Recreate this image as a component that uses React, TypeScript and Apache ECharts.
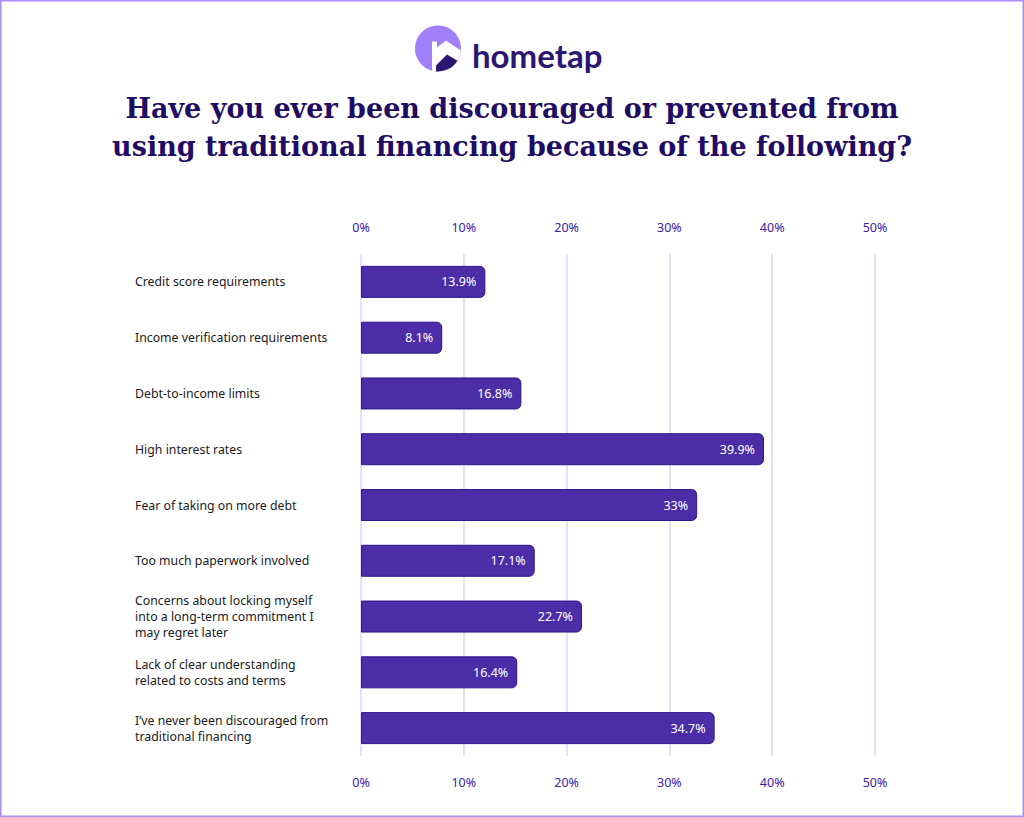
import { useEffect, useRef } from "react";
import * as echarts from "echarts";

const categories = [
  "Credit score requirements",
  "Income verification requirements",
  "Debt-to-income limits",
  "High interest rates",
  "Fear of taking on more debt",
  "Too much paperwork involved",
  "Concerns about locking myself\ninto a long-term commitment I\nmay regret later",
  "Lack of clear understanding\nrelated to costs and terms",
  "I’ve never been discouraged from\ntraditional financing",
];

// bar lengths as drawn in the picture (the printed labels differ a little)
const barLengths = [12.1, 7.9, 15.6, 39.2, 32.7, 16.9, 21.5, 15.2, 34.4];
const valueLabels = [
  "13.9%",
  "8.1%",
  "16.8%",
  "39.9%",
  "33%",
  "17.1%",
  "22.7%",
  "16.4%",
  "34.7%",
];

const axisMin = 0;
const axisMax = 50;
const axisStep = 10;

const titleLines = [
  "Have you ever been discouraged or prevented from",
  "using traditional financing because of the following?",
];

const purple = "#4b2ea7";
const ink = "#1f0c64";
const tickColor = "#3b21ad";
const gridColor = "#ddd7fc";
const sans = "'Noto Sans', Lato, sans-serif";

echarts.graphic.registerShape(
  "logoHouse",
  echarts.graphic.extendPath(
    "M -6 22.2 L -6 -7 L -1 -7 L -1 -1 L 8 -8 L 22.9 2 A 23 23 0 0 1 -6 22.2 Z",
    {}
  )
);
echarts.graphic.registerShape(
  "logoRoof",
  echarts.graphic.extendPath(
    "M -2 22.9 L -2 17 L 9 6 L 19.5 12.2 A 23 23 0 0 1 -2 22.9 Z",
    {}
  )
);

const App = () => {
  const chartRef = useRef<HTMLDivElement | null>(null);

  useEffect(() => {
    if (!chartRef.current) {
      return;
    }
    const instance = echarts.init(chartRef.current, undefined, {
      renderer: "svg",
    });

    const valueAxis = {
      type: "value" as const,
      min: axisMin,
      max: axisMax,
      interval: axisStep,
      axisLine: { show: false },
      axisTick: { show: false },
      axisLabel: {
        formatter: "{value}%",
        color: tickColor,
        fontSize: 12.5,
        fontFamily: sans,
        margin: 20,
      },
    };

    const titleTexts = titleLines.map((line, i) => ({
      type: "text" as const,
      x: 512,
      y: 108 + i * 38,
      style: {
        text: line,
        fill: ink,
        font: "bold 27px 'DejaVu Serif', serif",
        align: "center",
        verticalAlign: "middle",
      },
    }));

    const option: echarts.EChartsOption = {
      animation: false,
      backgroundColor: "#ffffff",
      graphic: [
        {
          type: "rect",
          shape: { x: 0.75, y: 0.75, width: 1022.5, height: 815.5 },
          style: { fill: "none", stroke: "#a98ef7", lineWidth: 1.5 },
          silent: true,
        },
        {
          type: "circle",
          shape: { cx: 438, cy: 48.5, r: 23 },
          style: { fill: "#a07ff8" },
        },
        {
          type: "logoHouse",
          x: 438,
          y: 48.5,
          style: { fill: "#ffffff" },
        } as any,
        {
          type: "logoRoof",
          x: 438,
          y: 48.5,
          style: { fill: "#2b1672" },
        } as any,
        {
          type: "text",
          x: 472,
          y: 55,
          style: {
            text: "hometap",
            fill: "#2b1672",
            font: "bold 33px Lato, sans-serif",
            verticalAlign: "middle",
          },
        },
        ...titleTexts,
      ],
      grid: {
        left: 361,
        right: 149,
        top: 254,
        height: 502,
      },
      xAxis: [
        {
          ...valueAxis,
          position: "top",
          splitLine: { show: true, lineStyle: { color: gridColor, width: 1.5 } },
        },
        {
          ...valueAxis,
          position: "bottom",
          splitLine: { show: false },
        },
      ],
      yAxis: {
        type: "category",
        inverse: true,
        data: categories,
        axisLine: { show: false },
        axisTick: { show: false },
        axisLabel: {
          align: "left",
          margin: 226,
          color: "#1a1a22",
          fontSize: 12.3,
          lineHeight: 16,
          fontFamily: sans,
        },
      },
      series: [
        {
          type: "bar",
          xAxisIndex: 0,
          data: barLengths,
          barWidth: 32,
          itemStyle: {
            color: purple,
            borderColor: "#2d168c",
            borderWidth: 1,
            borderRadius: [0, 5, 5, 0],
          },
          label: {
            show: true,
            position: "insideRight",
            distance: 9,
            color: "#ffffff",
            fontSize: 12.5,
            fontFamily: sans,
            formatter: (p: any) => valueLabels[p.dataIndex],
          },
        },
      ],
    };

    instance.setOption(option);

    return () => {
      instance.dispose();
    };
  }, []);

  return (
    <div
      ref={chartRef}
      style={{
        position: "absolute",
        left: 0,
        top: 0,
        width: 1024,
        height: 817,
      }}
    />
  );
};

export default App;
